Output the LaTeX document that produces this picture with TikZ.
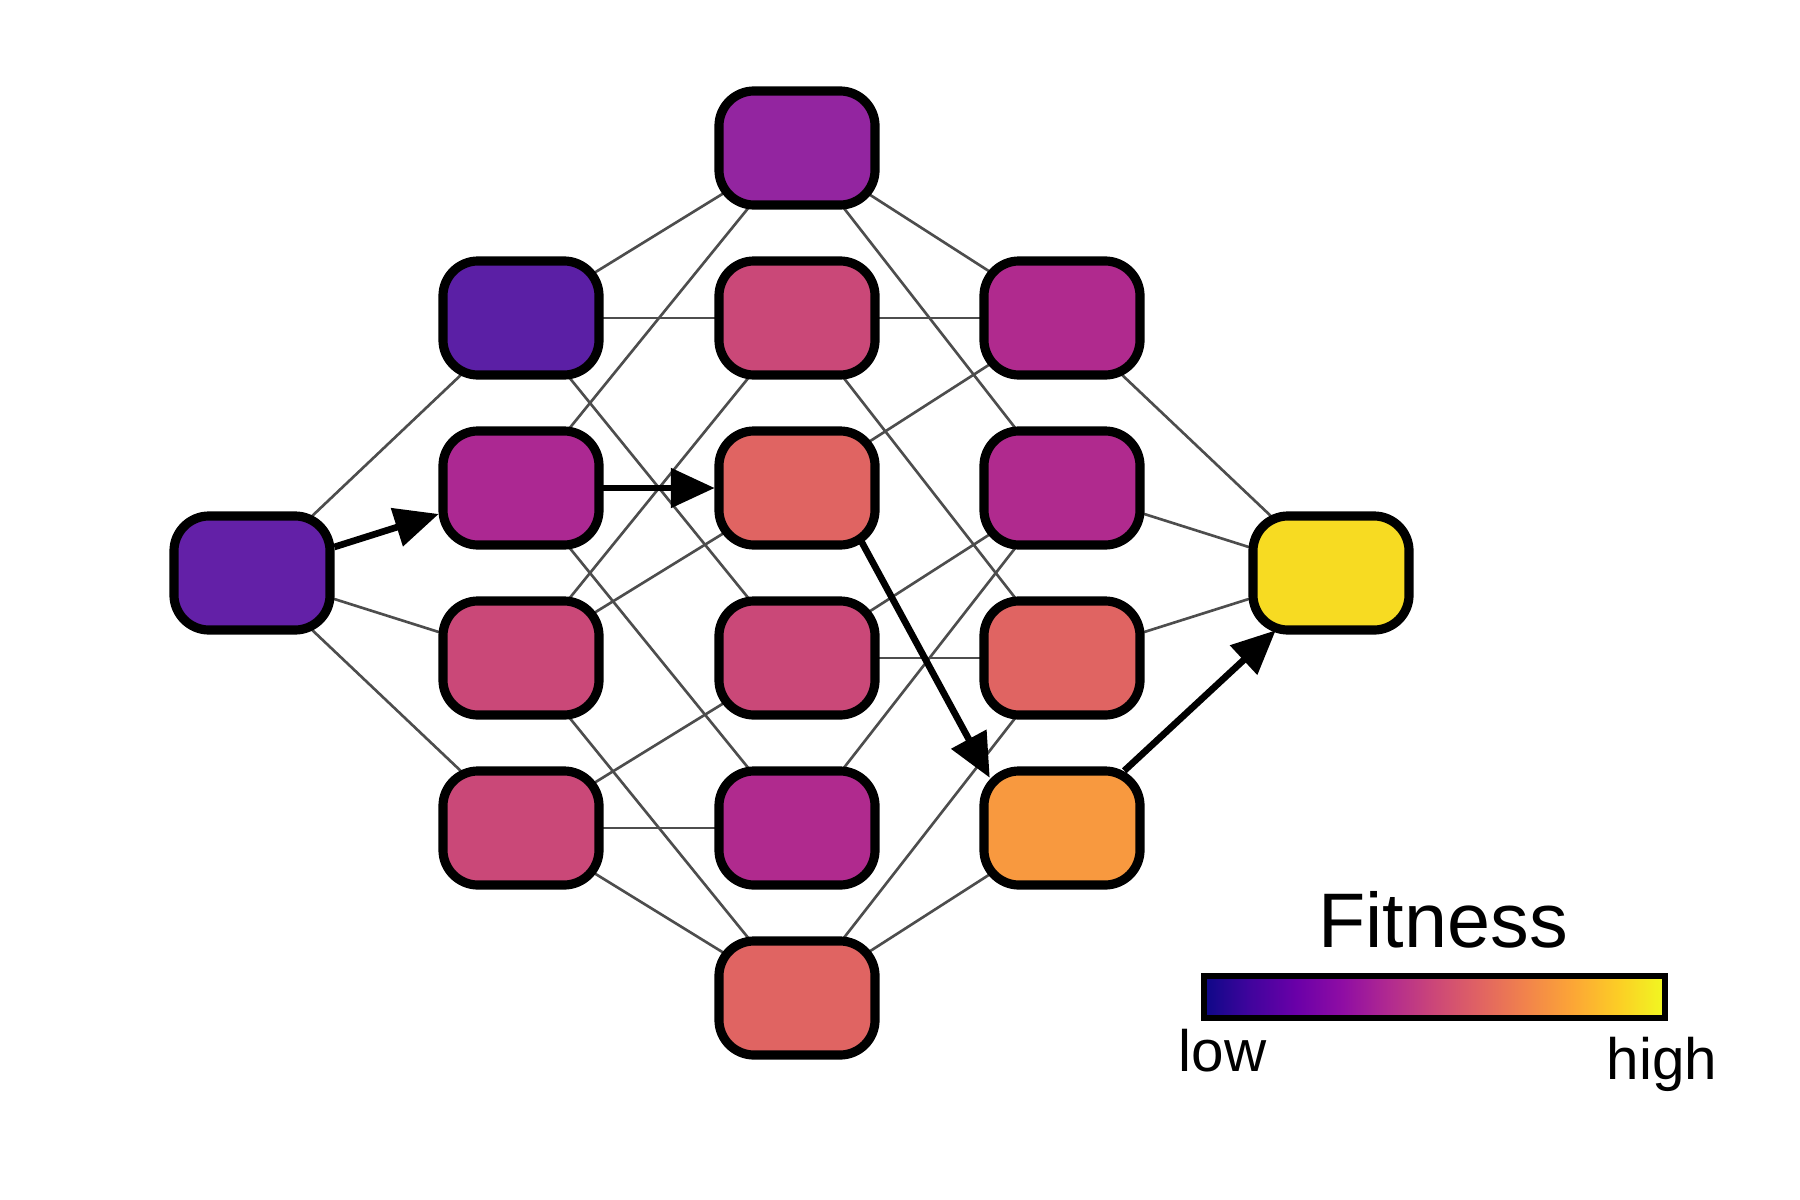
\documentclass[tikz,border=0pt]{standalone}
\usepackage{fontspec}
\setmainfont{Liberation Sans}
\usetikzlibrary{arrows.meta}
\pgfdeclarelayer{under}
\pgfsetlayers{under,main}
\definecolor{cA0}{HTML}{6320A7}
\definecolor{cA1}{HTML}{5B1FA5}
\definecolor{cA2}{HTML}{AC2892}
\definecolor{cPk}{HTML}{CA4878}
\definecolor{cC1}{HTML}{9325A0}
\definecolor{cSal}{HTML}{E06462}
\definecolor{cMag}{HTML}{B02A8E}
\definecolor{cOr}{HTML}{F8993F}
\definecolor{cYe}{HTML}{F7DB22}
\definecolor{cEdge}{HTML}{4D4D4D}
\definecolor{p0}{HTML}{0D0887}
\definecolor{p1}{HTML}{41049D}
\definecolor{p2}{HTML}{6A00A8}
\definecolor{p3}{HTML}{8F0DA4}
\definecolor{p4}{HTML}{B12A90}
\definecolor{p5}{HTML}{CC4778}
\definecolor{p6}{HTML}{E16462}
\definecolor{p7}{HTML}{F2844B}
\definecolor{p8}{HTML}{FCA636}
\definecolor{p9}{HTML}{FCCE25}
\definecolor{p10}{HTML}{F0F921}
\pgfdeclarehorizontalshading{plasmabar}{100bp}{color(0bp)=(p0); color(25bp)=(p0); color(30bp)=(p1); color(35bp)=(p2); color(40bp)=(p3); color(45bp)=(p4); color(50bp)=(p5); color(55bp)=(p6); color(60bp)=(p7); color(65bp)=(p8); color(70bp)=(p9); color(75bp)=(p10); color(100bp)=(p10)}
\tikzset{
  state/.style={draw=black, line width=2.6pt, rounded corners=10pt,
    minimum width=1.56cm, minimum height=1.14cm, inner sep=0pt, outer sep=1.2pt},
  link/.style={draw=cEdge, line width=0.75pt},
  arr/.style={draw=black, line width=1.9pt, -{Triangle[length=12.5pt,width=11pt]}},
  lbl/.style={inner sep=0pt, text=black}
}
\begin{document}
\begin{tikzpicture}[x=0.01cm,y=-0.01cm]
\useasboundingbox (0,0) rectangle (1800,1200);
% nodes
\node[state, fill=cA0] (A0) at (252,573) {};
\node[state, fill=cA1] (A1) at (521,318) {};
\node[state, fill=cA2] (A2) at (521,488) {};
\node[state, fill=cPk] (A3) at (521,658) {};
\node[state, fill=cPk] (A4) at (521,828) {};
\node[state, fill=cC1] (C1) at (797,148) {};
\node[state, fill=cPk] (C2) at (797,318) {};
\node[state, fill=cSal] (C3) at (797,488) {};
\node[state, fill=cPk] (C4) at (797,658) {};
\node[state, fill=cMag] (C5) at (797,828) {};
\node[state, fill=cSal] (C6) at (797,998) {};
\node[state, fill=cMag] (B1) at (1062,318) {};
\node[state, fill=cMag] (B2) at (1062,488) {};
\node[state, fill=cSal] (B3) at (1062,658) {};
\node[state, fill=cOr] (B4) at (1062,828) {};
\node[state, fill=cYe] (E) at (1331,573) {};
% thin links behind nodes
\begin{pgfonlayer}{under}
\fill[white] (0,0) rectangle (1800,1200);
\draw[link] (A0.center) -- (A1.center);
\draw[link] (A0.center) -- (A3.center);
\draw[link] (A0.center) -- (A4.center);
\draw[link] (A1.center) -- (C1.center);
\draw[link] (A1.center) -- (C2.center);
\draw[link] (A1.center) -- (C4.center);
\draw[link] (A2.center) -- (C1.center);
\draw[link] (A2.center) -- (C5.center);
\draw[link] (A3.center) -- (C2.center);
\draw[link] (A3.center) -- (C3.center);
\draw[link] (A3.center) -- (C6.center);
\draw[link] (A4.center) -- (C4.center);
\draw[link] (A4.center) -- (C5.center);
\draw[link] (A4.center) -- (C6.center);
\draw[link] (C1.center) -- (B1.center);
\draw[link] (C1.center) -- (B2.center);
\draw[link] (C2.center) -- (B1.center);
\draw[link] (C2.center) -- (B3.center);
\draw[link] (C3.center) -- (B1.center);
\draw[link] (C4.center) -- (B2.center);
\draw[link] (C4.center) -- (B3.center);
\draw[link] (C5.center) -- (B2.center);
\draw[link] (C6.center) -- (B3.center);
\draw[link] (C6.center) -- (B4.center);
\draw[link] (B1.center) -- (E.center);
\draw[link] (B2.center) -- (E.center);
\draw[link] (B3.center) -- (E.center);
\end{pgfonlayer}
% path arrows
\draw[arr] (A0) -- (A2);
\draw[arr] (A2) -- (C3);
\draw[arr] ([shift={(-18,-8)}]C3.south east) -- ([shift={(10,11)}]B4.north west);
\draw[arr] ([shift={(-20,4)}]B4.north east) -- ([shift={(27,-4)}]E.south west);
% legend
\shade[shading=plasmabar] (1204,976) rectangle (1665,1018);
\draw[line width=1.8pt] (1204,976) rectangle (1665,1018);
\node[lbl, anchor=base, font=\fontsize{22pt}{26pt}\selectfont] (fit) at (1443,947) {Fitness};
\node[lbl, anchor=base west, font=\fontsize{16.6pt}{20pt}\selectfont] (low) at (1178,1071) {low};
\node[lbl, anchor=base east, font=\fontsize{16.6pt}{20pt}\selectfont] (high) at (1718,1079) {high};
\end{tikzpicture}
\end{document}
